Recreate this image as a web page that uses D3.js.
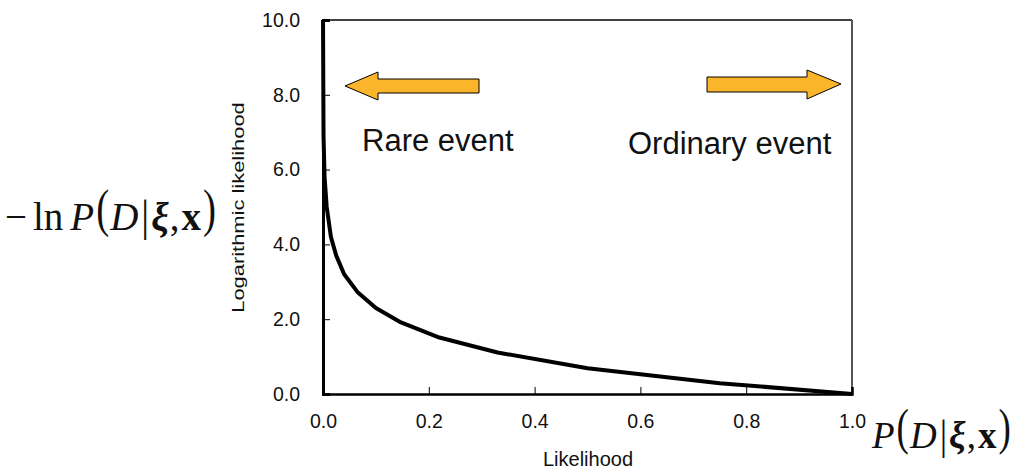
<!DOCTYPE html>
<html>
<head>
<meta charset="utf-8">
<script src="https://cdn.jsdelivr.net/npm/d3@7"></script>
<style>
  body { margin: 0; background: #fff; }
  svg text { font-family: Arial, "Liberation Sans", sans-serif; }
  .math { font-family: "Liberation Serif", "DejaVu Serif", serif; }
</style>
</head>
<body>
<div id="chart"></div>
<script>
// likelihood vs. -ln likelihood
const likelihood = [0.00005, 0.001, 0.003, 0.007, 0.015, 0.025, 0.04, 0.065, 0.1, 0.145, 0.22, 0.33, 0.5, 0.75, 1.0];
const logLik     = [10.0, 6.9, 5.8, 5.0, 4.2, 3.7, 3.2, 2.73, 2.3, 1.93, 1.51, 1.11, 0.69, 0.29, 0.0];
const xTicks = [0, 0.2, 0.4, 0.6, 0.8, 1.0];
const yTicks = [0, 2, 4, 6, 8, 10];

const W = 1016, H = 470;
const margin = {top: 20, right: 164, bottom: 76, left: 323};
const width = W - margin.left - margin.right,
      height = H - margin.top - margin.bottom;

const svg = d3.select("#chart").append("svg")
    .attr("width", W).attr("height", H);
const g = svg.append("g")
    .attr("transform", "translate(" + margin.left + "," + margin.top + ")");

const x = d3.scaleLinear().domain([0, 1]).range([0, width]);
const y = d3.scaleLinear().domain([0, 10]).range([height, 0]);

// frame (top and right thin)
g.append("line").attr("x1", 0).attr("x2", width).attr("y1", 0).attr("y2", 0)
    .attr("stroke", "#000").attr("stroke-width", 1.5);
g.append("line").attr("x1", width).attr("x2", width).attr("y1", 0).attr("y2", height)
    .attr("stroke", "#555").attr("stroke-width", 2);

// axes, ticks pointing inward
const xAxis = g.append("g")
    .attr("transform", `translate(0,${height})`)
    .call(d3.axisBottom(x).tickValues(xTicks).tickSize(-7).tickPadding(20)
        .tickFormat(d3.format(".1f")));
const yAxis = g.append("g")
    .call(d3.axisLeft(y).tickValues(yTicks).tickSize(-7).tickPadding(23)
        .tickFormat(d3.format(".1f")));
[xAxis, yAxis].forEach(a => {
    a.selectAll(".tick line").attr("stroke", "#000");
    a.selectAll(".tick text").attr("font-size", 19.5).attr("fill", "#111")
        .attr("font-family", "Arial, 'Liberation Sans', sans-serif");
});
xAxis.select(".domain").attr("stroke", "#000").attr("stroke-width", 2.5);
yAxis.select(".domain").attr("stroke", "#000").attr("stroke-width", 3);
xAxis.selectAll(".tick text").attr("dy", "0.71em");

// curve
const pts = likelihood.map((p, i) => [p, logLik[i]]);
g.append("path")
    .datum(pts)
    .attr("fill", "none")
    .attr("stroke", "#000")
    .attr("stroke-width", 4)
    .attr("stroke-linejoin", "round")
    .attr("d", d3.line().x(d => x(d[0])).y(d => y(d[1])));

// axis titles (the y title is stretched along its length in the original)
svg.append("text")
    .attr("transform", "translate(244,207.5) rotate(-90) scale(1.37,1)")
    .attr("text-anchor", "middle")
    .attr("font-size", 16)
    .attr("fill", "#111")
    .text("Logarithmic likelihood");
svg.append("text")
    .attr("x", 588).attr("y", 466)
    .attr("text-anchor", "middle")
    .attr("font-size", 20)
    .attr("fill", "#111")
    .text("Likelihood");

// arrows
const arrowColor = "#fbb52b";
const leftArrow = [[345,86],[378,72],[378,79],[479,79],[479,93],[378,93],[378,100]];
const rightArrow = [[841,84],[807,70],[807,77],[707,77],[707,92],[807,92],[807,99]];
[leftArrow, rightArrow].forEach(a => {
    svg.append("polygon")
        .attr("points", a.map(p => p.join(",")).join(" "))
        .attr("fill", arrowColor).attr("stroke", "#000").attr("stroke-width", 1);
});

svg.append("text").attr("x", 362).attr("y", 151).attr("font-size", 31).attr("fill", "#111").text("Rare event");
svg.append("text").attr("x", 628).attr("y", 154).attr("font-size", 31).attr("fill", "#111").text("Ordinary event");

// math labels, laid out piece by piece
function mathLabel(x0, base, withMinus, fs) {
    const pieces = [];
    if (withMinus) {
        pieces.push({t: "\u2212", gap: 0});
        pieces.push({t: "ln", gap: 6});
        pieces.push({t: "P", gap: 7, it: true});
    } else {
        pieces.push({t: "P", gap: 0, it: true});
    }
    pieces.push({t: "(", gap: 2, sy: 1.35, sh: -4});
    pieces.push({t: "D", gap: 1, it: true});
    pieces.push({t: "|", gap: 3, sy: 1.15, sh: 1});
    pieces.push({t: "\u03be", gap: 2, it: true, bold: true});
    pieces.push({t: ",", gap: 1});
    pieces.push({t: "x", gap: 2, bold: true});
    pieces.push({t: ")", gap: 2, sy: 1.35, sh: -4});

    let cx = x0;
    pieces.forEach(p => {
        cx += p.gap;
        const t = svg.append("text").attr("class", "math")
            .attr("font-size", fs).attr("fill", "#111")
            .attr("font-style", p.it ? "italic" : "normal")
            .attr("font-weight", p.bold ? "bold" : "normal")
            .attr("transform", `translate(${cx},${base + (p.sh || 0)}) scale(1,${p.sy || 1})`)
            .text(p.t);
        cx += t.node().getComputedTextLength();
    });
}
mathLabel(5, 230, true, 39);
mathLabel(872, 448, false, 37);
</script>
</body>
</html>
